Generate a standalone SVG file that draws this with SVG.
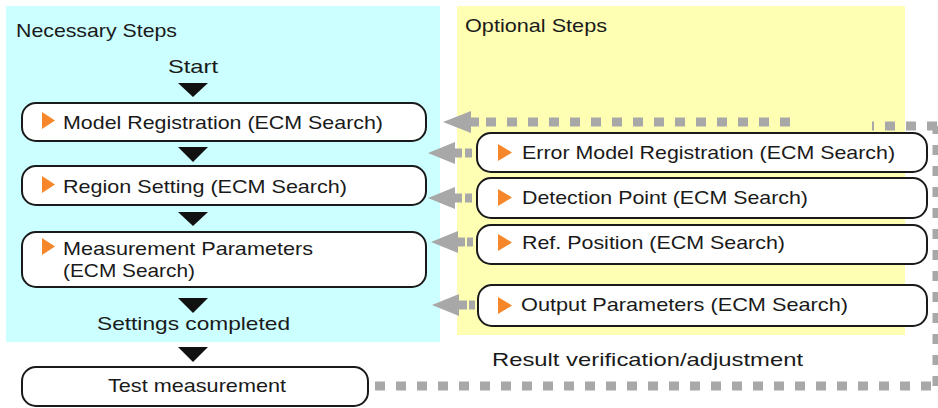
<svg xmlns="http://www.w3.org/2000/svg" width="938" height="408" viewBox="0 0 938 408">
<defs>
<style>
text{font-family:"Liberation Sans","Noto Sans",Arial,sans-serif;font-size:19px;fill:#1a1a1a}
.box{fill:#fff;stroke:#1a1a1a;stroke-width:2}
.tri{fill:#111}
.or{fill:#f5862a}
.dash{fill:none;stroke:#a8a8a8;stroke-width:9;stroke-dasharray:10 11}
.ah{fill:#a8a8a8}
</style>
</defs>
<rect x="6" y="6" width="434" height="336" fill="#ccffff"/>
<rect x="457" y="6" width="448" height="329" fill="#ffffb4"/>
<text x="16" y="37" textLength="161" lengthAdjust="spacingAndGlyphs">Necessary Steps</text>
<text x="465" y="32" textLength="142" lengthAdjust="spacingAndGlyphs">Optional Steps</text>
<text x="168" y="73" textLength="50" lengthAdjust="spacingAndGlyphs">Start</text>
<text x="97" y="330" textLength="193" lengthAdjust="spacingAndGlyphs">Settings completed</text>
<text x="492" y="366" textLength="311" lengthAdjust="spacingAndGlyphs">Result verification/adjustment</text>
<g id="connectors">
<polygon class="tri" points="178,83 208,83 193,97"/>
<polygon class="tri" points="178,147 208,147 193,162"/>
<polygon class="tri" points="178,212 208,212 193,226"/>
<polygon class="tri" points="178,298 208,298 193,313"/>
<polygon class="tri" points="178,347 208,347 193,362"/>
<path class="dash" d="M375,386 H937 M937,386 V126 M937,126 H872 M790,122 H475"/>
<path class="ah" d="M443,122 l28,-11 v6.5 h8 v9 h-8 v6.5 z"/>
<path class="ah" d="M428,153 l27,-11 v6.5 h7 v9 h-7 v6.5 z"/>
<rect class="ah" x="465" y="148.5" width="7" height="9"/>
<path class="ah" d="M428,198 l27,-11 v6.5 h7 v9 h-7 v6.5 z"/>
<rect class="ah" x="465" y="193.5" width="7" height="9"/>
<path class="ah" d="M431,242 l27,-11 v6.5 h7 v9 h-7 v6.5 z"/>
<rect class="ah" x="467" y="237.5" width="6" height="9"/>
<path class="ah" d="M432,305 l27,-11 v6.5 h8 v9 h-8 v6.5 z"/>
<rect class="ah" x="469" y="300.5" width="6" height="9"/>
</g>
<g id="model-registration">
<rect class="box" x="22" y="103" width="404" height="38" rx="14"/>
<polygon class="or" points="42,112 55,120.5 42,129"/>
<text x="63" y="129" textLength="320" lengthAdjust="spacingAndGlyphs">Model Registration (ECM Search)</text>
</g>
<g id="region-setting">
<rect class="box" x="22" y="166" width="404" height="39" rx="14"/>
<polygon class="or" points="42,176 55,184.5 42,193"/>
<text x="63" y="193" textLength="284" lengthAdjust="spacingAndGlyphs">Region Setting (ECM Search)</text>
</g>
<g id="measurement-parameters">
<rect class="box" x="22" y="232" width="404" height="55" rx="14"/>
<polygon class="or" points="42,238 55,246.5 42,255"/>
<text x="63" y="255" textLength="250" lengthAdjust="spacingAndGlyphs">Measurement Parameters</text>
<text x="63" y="277" textLength="132" lengthAdjust="spacingAndGlyphs">(ECM Search)</text>
</g>
<g id="test-measurement">
<rect class="box" x="22" y="367" width="346" height="39" rx="14"/>
<text x="108" y="392" textLength="178" lengthAdjust="spacingAndGlyphs">Test measurement</text>
</g>
<g id="error-model-registration">
<rect class="box" x="477" y="133" width="450" height="39" rx="14"/>
<polygon class="or" points="498,144 512,152.5 498,161"/>
<text x="522" y="159" textLength="373" lengthAdjust="spacingAndGlyphs">Error Model Registration (ECM Search)</text>
</g>
<g id="detection-point">
<rect class="box" x="477" y="178" width="450" height="40" rx="14"/>
<polygon class="or" points="498,189 512,197.5 498,206"/>
<text x="522" y="204" textLength="286" lengthAdjust="spacingAndGlyphs">Detection Point (ECM Search)</text>
</g>
<g id="ref-position">
<rect class="box" x="477" y="225" width="450" height="39" rx="14"/>
<polygon class="or" points="498,234 512,242.5 498,251"/>
<text x="522" y="249" textLength="263" lengthAdjust="spacingAndGlyphs">Ref. Position (ECM Search)</text>
</g>
<g id="output-parameters">
<rect class="box" x="478" y="285" width="449" height="41" rx="14"/>
<polygon class="or" points="498,297 512,305.5 498,314"/>
<text x="521" y="311" textLength="327" lengthAdjust="spacingAndGlyphs">Output Parameters (ECM Search)</text>
</g>
</svg>
